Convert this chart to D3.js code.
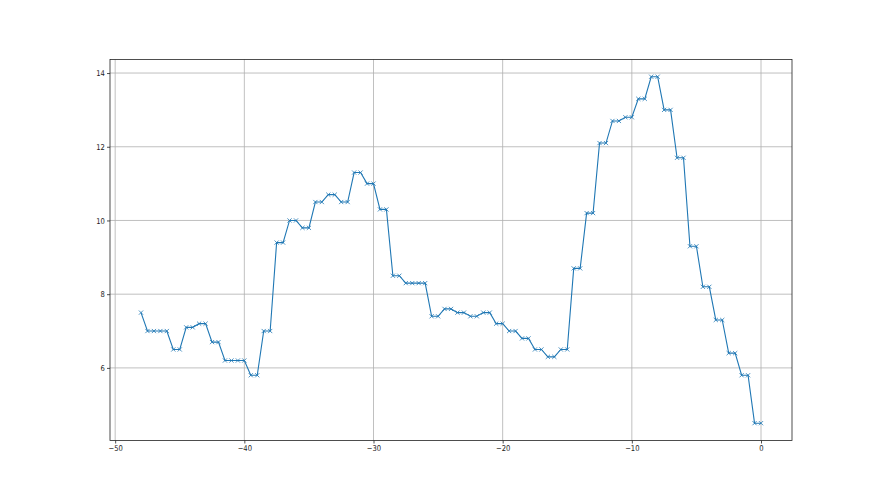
<!DOCTYPE html>
<html>
<head>
<meta charset="utf-8">
<script src="https://cdn.jsdelivr.net/npm/d3@7"></script>
<style>
  html, body { margin: 0; padding: 0; background: #fff; }
  svg { display: block; }
  .tick text { font-family: "DejaVu Sans", sans-serif; font-size: 8px; fill: #222; }
</style>
</head>
<body>
<svg id="chart" width="880" height="495"></svg>
<script>
const xValues = [-48, -47.5, -47, -46.5, -46, -45.5, -45, -44.5, -44, -43.5, -43, -42.5, -42, -41.5, -41, -40.5, -40, -39.5, -39, -38.5, -38, -37.5, -37, -36.5, -36, -35.5, -35, -34.5, -34, -33.5, -33, -32.5, -32, -31.5, -31, -30.5, -30, -29.5, -29, -28.5, -28, -27.5, -27, -26.5, -26, -25.5, -25, -24.5, -24, -23.5, -23, -22.5, -22, -21.5, -21, -20.5, -20, -19.5, -19, -18.5, -18, -17.5, -17, -16.5, -16, -15.5, -15, -14.5, -14, -13.5, -13, -12.5, -12, -11.5, -11, -10.5, -10, -9.5, -9, -8.5, -8, -7.5, -7, -6.5, -6, -5.5, -5, -4.5, -4, -3.5, -3, -2.5, -2, -1.5, -1, -0.5, 0];
const yValues = [7.5, 7.0, 7.0, 7.0, 7.0, 6.5, 6.5, 7.1, 7.1, 7.2, 7.2, 6.7, 6.7, 6.2, 6.2, 6.2, 6.2, 5.8, 5.8, 7.0, 7.0, 9.4, 9.4, 10.0, 10.0, 9.8, 9.8, 10.5, 10.5, 10.7, 10.7, 10.5, 10.5, 11.3, 11.3, 11.0, 11.0, 10.3, 10.3, 8.5, 8.5, 8.3, 8.3, 8.3, 8.3, 7.4, 7.4, 7.6, 7.6, 7.5, 7.5, 7.4, 7.4, 7.5, 7.5, 7.2, 7.2, 7.0, 7.0, 6.8, 6.8, 6.5, 6.5, 6.3, 6.3, 6.5, 6.5, 8.7, 8.7, 10.2, 10.2, 12.1, 12.1, 12.7, 12.7, 12.8, 12.8, 13.3, 13.3, 13.9, 13.9, 13.0, 13.0, 11.7, 11.7, 9.3, 9.3, 8.2, 8.2, 7.3, 7.3, 6.4, 6.4, 5.8, 5.8, 4.5, 4.5];
const xTicks = [-50, -40, -30, -20, -10, 0];
const yTicks = [6, 8, 10, 12, 14];

(function () {
const data = xValues.map((v, i) => ({ x: v, y: yValues[i] }));

const svg = d3.select("#chart");
const pLeft = 110, pRight = 792, pTop = 59.4, pBottom = 440.5;

const xMin = d3.min(xValues), xMax = d3.max(xValues);
const yMin = d3.min(yValues), yMax = d3.max(yValues);
const xPad = (xMax - xMin) * 0.05, yPad = (yMax - yMin) * 0.05;

const x = d3.scaleLinear().domain([xMin - xPad, xMax + xPad]).range([pLeft, pRight]);
const y = d3.scaleLinear().domain([yMin - yPad, yMax + yPad]).range([pBottom, pTop]);

// grid
const grid = svg.append("g");
grid.selectAll("line.gx").data(xTicks).join("line").attr("class", "gx")
  .attr("x1", d => x(d)).attr("x2", d => x(d))
  .attr("y1", pTop).attr("y2", pBottom)
  .attr("stroke", "#b0b0b0").attr("stroke-width", 0.8);
grid.selectAll("line.gy").data(yTicks).join("line").attr("class", "gy")
  .attr("y1", d => y(d)).attr("y2", d => y(d))
  .attr("x1", pLeft).attr("x2", pRight)
  .attr("stroke", "#b0b0b0").attr("stroke-width", 0.8);

// line
const line = d3.line().x(d => x(d.x)).y(d => y(d.y));
svg.append("path").datum(data)
  .attr("d", line)
  .attr("fill", "none")
  .attr("stroke", "#1f77b4")
  .attr("stroke-width", 1.1);

// x markers
const ms = 2.1;
svg.append("g").selectAll("path").data(data).join("path")
  .attr("d", d => {
    const cx = x(d.x), cy = y(d.y);
    return `M${cx - ms},${cy - ms}L${cx + ms},${cy + ms}M${cx - ms},${cy + ms}L${cx + ms},${cy - ms}`;
  })
  .attr("stroke", "#1f77b4")
  .attr("stroke-width", 0.8)
  .attr("fill", "none");

// axes
const xAxis = d3.axisBottom(x).tickValues(xTicks).tickSize(3).tickPadding(2)
  .tickFormat(d => d3.format("d")(d).replace("-", "\u2212"));
const gx = svg.append("g").attr("transform", `translate(0,${pBottom})`).call(xAxis);
gx.select(".domain").remove();
gx.selectAll(".tick line").attr("stroke", "#222").attr("stroke-width", 0.8);
gx.selectAll(".tick text").attr("transform", "scale(0.85,1)");

const yAxis = d3.axisLeft(y).tickValues(yTicks).tickSize(3).tickPadding(2)
  .tickFormat(d3.format("d"));
const gy = svg.append("g").attr("transform", `translate(${pLeft},0)`).call(yAxis);
gy.select(".domain").remove();
gy.selectAll(".tick line").attr("stroke", "#222").attr("stroke-width", 0.8);
gy.selectAll(".tick text").attr("x", -6).attr("transform", "scale(0.85,1)");

// spines
svg.append("rect")
  .attr("x", pLeft).attr("y", pTop)
  .attr("width", pRight - pLeft).attr("height", pBottom - pTop)
  .attr("fill", "none").attr("stroke", "#222").attr("stroke-width", 0.8);
})();
</script>
</body>
</html>
